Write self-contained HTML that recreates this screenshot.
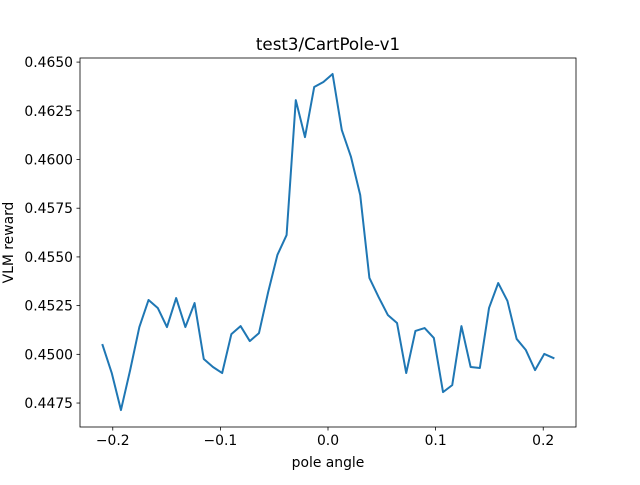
<!DOCTYPE html>
<html><head><meta charset="utf-8"><style>
body{margin:0;background:#fff;}
svg text{font-family:"DejaVu Sans","Liberation Sans",sans-serif;fill:#000;}
</style></head><body>
<svg id="chart" width="640" height="480" xmlns="http://www.w3.org/2000/svg">
<rect width="640" height="480" fill="#fff"/>
<text x="328" y="50" font-size="16.7" text-anchor="middle">test3/CartPole-v1</text>
<g id="plot"></g>
<rect x="80" y="58" width="496" height="369" fill="none" stroke="#000" stroke-width="0.8"/>
<text x="328" y="467" font-size="13.9" text-anchor="middle">pole angle</text>
<text transform="translate(13,242.5) rotate(-90)" font-size="13.9" text-anchor="middle">VLM reward</text>
</svg>
<script>
const yValues=[0.45048,0.44904,0.44714,0.44919,0.4514,0.45279,0.45238,0.4514,0.45289,0.4514,
0.45263,0.44976,0.44935,0.44904,0.45104,0.45145,0.45068,0.45109,0.4532,0.4551,
0.45612,0.46305,0.46115,0.46372,0.46398,0.46439,0.46151,0.46013,0.45818,0.45392,
0.45294,0.45202,0.45161,0.44904,0.4512,0.45135,0.45084,0.44806,0.44842,0.45145,
0.44935,0.4493,0.45238,0.45366,0.45274,0.45079,0.45022,0.44919,0.45002,0.44981];
const xStart=-0.2095;
const xEnd=0.2095;
const xTicks=[-0.2,-0.1,0.0,0.1,0.2];
const xTickLabels=["\u22120.2","\u22120.1","0.0","0.1","0.2"];
const yTicks=[0.4475,0.45,0.4525,0.455,0.4575,0.46,0.4625,0.465];
const yTickLabels=["0.4475","0.4500","0.4525","0.4550","0.4575","0.4600","0.4625","0.4650"];

const L=80,R=576,T=58,B=427;
const xMin=-0.23045,xMax=0.23045,yMin=0.44627,yMax=0.46521;
const sx=v=>L+(v-xMin)/(xMax-xMin)*(R-L);
const sy=v=>B-(v-yMin)/(yMax-yMin)*(B-T);
const NS="http://www.w3.org/2000/svg";
const g=document.getElementById('plot');
function mk(t,a){const e=document.createElementNS(NS,t);for(const k in a)e.setAttribute(k,a[k]);g.appendChild(e);return e;}
xTicks.forEach((v,i)=>{
  const x=sx(v);
  const l=mk('line',{x1:x,x2:x,y1:B,y2:B+3.5,stroke:'#000','stroke-width':0.8});
  
  
  const t=mk('text',{x:x,y:B+18,'font-size':13.9,'text-anchor':'middle'});
  t.textContent=xTickLabels[i];
  
  
});
yTicks.forEach((v,i)=>{
  const y=sy(v);
  const l=mk('line',{x1:L-3.5,x2:L,y1:y,y2:y,stroke:'#000','stroke-width':0.8});
  
  
  const t=mk('text',{x:L-7,y:y+5,'font-size':13.9,'text-anchor':'end'});
  t.textContent=yTickLabels[i];
  
  
});
const n=yValues.length;
const pts=yValues.map((v,i)=>{const xv=xStart+(xEnd-xStart)*i/(n-1);return sx(xv).toFixed(2)+','+sy(v).toFixed(2);}).join(' ');
const line=mk('polyline',{points:pts,fill:'none',stroke:'#1f77b4','stroke-width':2,'stroke-linejoin':'round','stroke-linecap':'square'});


</script>
</body></html>
